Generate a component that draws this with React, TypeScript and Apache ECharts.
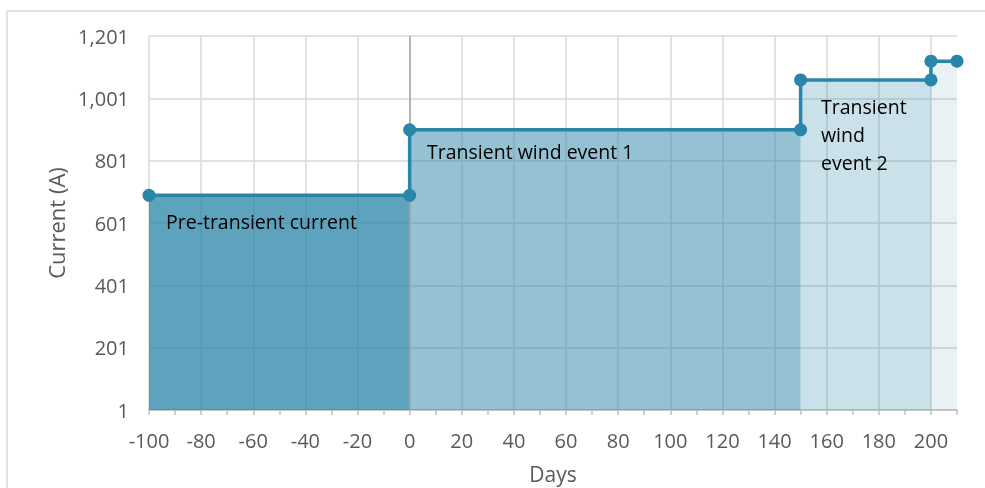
import React, { useEffect, useRef } from "react";
import * as echarts from "echarts";

// Step profile of the current (days, amperes)
const stepDays = [-100, 0, 0, 150, 150, 200, 200, 210];
const stepCurrent = [690, 690, 900, 900, 1060, 1060, 1120, 1120];

// Shaded phases: [startDay, endDay, current level]
const phaseStart = [-100, 0, 150, 200];
const phaseEnd = [0, 150, 200, 210];
const phaseLevel = [690, 900, 1060, 1120];
const phaseAlpha = [0.76, 0.5, 0.25, 0.11];

const phaseLabels = ["Pre-transient current", "Transient wind event 1", "Transient\nwind\nevent 2"];

const xMin = -100;
const xMax = 210;
const yMin = 1;
const yMax = 1201;

const FONT = "'Open Sans', sans-serif";
const LINE = "#2A86A8";

export default function App() {
  const ref = useRef<HTMLDivElement>(null);

  useEffect(() => {
    if (!ref.current) return;
    const chart = echarts.init(ref.current, undefined, { renderer: "svg" });

    const areaSeries = phaseStart.map((s, i) => ({
      type: "line",
      xAxisIndex: 0,
      yAxisIndex: 0,
      data: [
        [s, phaseLevel[i]],
        [phaseEnd[i], phaseLevel[i]],
      ],
      showSymbol: false,
      symbol: "none",
      lineStyle: { width: 0 },
      areaStyle: { color: `rgba(42,134,168,${phaseAlpha[i]})`, opacity: 1, origin: "start" },
      silent: true,
      z: 2,
    }));

    const splitColors = [] as string[];
    for (let v = xMin; v <= 200; v += 20) splitColors.push("#D9D9D9");
    splitColors.push("rgba(0,0,0,0)");

    chart.setOption({
      animation: false,
      grid: {
        left: 149,
        right: 28,
        top: 36,
        bottom: 78,
        containLabel: false,
        outerBoundsMode: "none",
      },
      xAxis: [
        {
          type: "value",
          min: xMin,
          max: xMax,
          interval: 20,
          name: "Days",
          nameLocation: "middle",
          nameGap: 53,
          nameTextStyle: { fontFamily: FONT, fontSize: 21, color: "#595959" },
          axisLine: { show: true, onZero: false, lineStyle: { color: "#BFBFBF", width: 1.5 } },
          axisTick: { show: false },
          axisLabel: {
            fontFamily: FONT,
            fontSize: 20,
            color: "#595959",
            margin: 20,
            showMaxLabel: false,
          },
          splitLine: { show: true, lineStyle: { color: splitColors, width: 1.5 } },
        },
        {
          type: "value",
          min: xMin,
          max: xMax,
          interval: 10,
          position: "bottom",
          axisLine: { show: false, onZero: false },
          axisTick: { show: true, inside: false, length: 5, lineStyle: { color: "#BFBFBF", width: 1.5 } },
          axisLabel: { show: false },
          splitLine: { show: false },
        },
      ],
      yAxis: {
        type: "value",
        min: yMin,
        max: yMax,
        interval: 200,
        name: "Current (A)",
        nameLocation: "middle",
        nameGap: 80,
        nameTextStyle: { fontFamily: FONT, fontSize: 22, color: "#595959" },
        axisLine: { show: false, onZero: false },
        axisTick: { show: false },
        axisLabel: {
          fontFamily: FONT,
          fontSize: 20,
          color: "#595959",
          margin: 20,
          formatter: (v: number) => Math.round(v).toLocaleString("en-US"),
        },
        splitLine: { show: true, lineStyle: { color: "#D9D9D9", width: 1.5 } },
      },
      series: [
        ...areaSeries,
        {
          type: "line",
          xAxisIndex: 0,
          data: [],
          silent: true,
          markLine: {
            silent: true,
            symbol: "none",
            label: { show: false },
            lineStyle: { color: "#A6A6A6", width: 1.5, type: "solid" },
            data: [{ xAxis: 0 }],
          },
          z: 1,
        },
        {
          type: "line",
          xAxisIndex: 0,
          data: stepDays.map((d, i) => [d, stepCurrent[i]]),
          symbol: "circle",
          symbolSize: 13,
          showSymbol: true,
          lineStyle: { color: LINE, width: 3.5 },
          itemStyle: { color: LINE },
          z: 5,
        },
      ],
      graphic: [
        {
          type: "rect",
          shape: { x: 7, y: 11, width: 1000, height: 500 },
          style: { fill: "none", stroke: "#D9D9D9", lineWidth: 1.5 },
          silent: true,
        },
        {
          type: "text",
          x: 166,
          y: 221,
          style: { text: phaseLabels[0], fill: "#000", font: `19.5px ${FONT}`, textVerticalAlign: "middle" },
          z: 10,
        },
        {
          type: "text",
          x: 427,
          y: 151,
          style: { text: phaseLabels[1], fill: "#000", font: `19.5px ${FONT}`, textVerticalAlign: "middle" },
          z: 10,
        },
        {
          type: "text",
          x: 821,
          y: 92,
          style: {
            text: phaseLabels[2],
            fill: "#000",
            font: `19.5px ${FONT}`,
            lineHeight: 28,
            textVerticalAlign: "top",
          },
          z: 10,
        },
      ],
    });

    return () => chart.dispose();
  }, []);

  return <div ref={ref} style={{ position: "fixed", left: 0, top: 0, width: 985, height: 488 }} />;
}
